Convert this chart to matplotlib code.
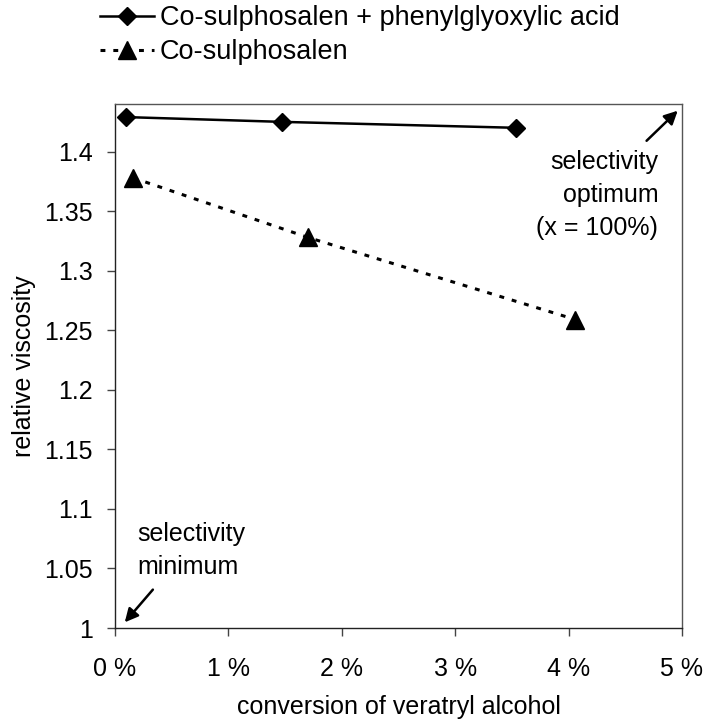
import matplotlib
matplotlib.use('Agg')
import matplotlib.pyplot as plt
from matplotlib.ticker import FuncFormatter

plt.rcParams['font.family'] = ['Liberation Sans', 'DejaVu Sans']

# data (x in %)
conv_acid = [0.10, 1.47, 3.54]
visc_acid = [1.429, 1.425, 1.420]
conv_sal = [0.16, 1.70, 4.06]
visc_sal = [1.378, 1.328, 1.259]

x_ticks = [0, 1, 2, 3, 4, 5]
y_ticks = [1, 1.05, 1.1, 1.15, 1.2, 1.25, 1.3, 1.35, 1.4]

fs = 18

fig = plt.figure(figsize=(7.08, 7.2), dpi=100)
ax = fig.add_axes([115/708, 1 - 628/720, (682-115)/708, (628-104)/720])

l1, = ax.plot(conv_acid, visc_acid, color='black', lw=1.8, marker='D', ms=9,
              label='Co-sulphosalen + phenylglyoxylic acid')
l2, = ax.plot(conv_sal, visc_sal, color='black', lw=2.2, ls=(0, (1.6, 2.6)), marker='^', ms=13,
              label='Co-sulphosalen')

ax.set_xlim(0, 5)
ax.set_ylim(1, 1.44)
ax.set_xticks(x_ticks)
ax.set_yticks(y_ticks)
ax.xaxis.set_major_formatter(FuncFormatter(lambda v, p: '%d %%' % v))
ax.yaxis.set_major_formatter(FuncFormatter(lambda v, p: ('%g' % v)))
ax.tick_params(labelsize=fs, direction='out', length=6, width=1, color='#444444')
ax.tick_params(axis='x', pad=15)
ax.tick_params(axis='y', pad=10)
for s in ax.spines.values():
    s.set_color('#555555')
    s.set_linewidth(1)
for s in ['left', 'bottom']:
    ax.spines[s].set_color('#222222')

ax.set_xlabel('conversion of veratryl alcohol', fontsize=fs, labelpad=10)
ax.set_ylabel('relative viscosity', fontsize=fs, labelpad=6)

ax.annotate('', xy=(4.98, 1.436), xytext=(4.67, 1.4075),
            arrowprops=dict(arrowstyle='-|>', color='black', lw=1.8, mutation_scale=20))
ax.text(4.79, 1.401, 'selectivity\noptimum\n(x = 100%)', ha='right', va='top',
        fontsize=fs, linespacing=1.45)

ax.annotate('', xy=(0.07, 1.003), xytext=(0.35, 1.034),
            arrowprops=dict(arrowstyle='-|>', color='black', lw=1.8, mutation_scale=20))
ax.text(0.20, 1.089, 'selectivity\nminimum', ha='left', va='top',
        fontsize=fs, linespacing=1.45)

fig.legend(handles=[l1, l2], loc='upper left', bbox_to_anchor=(100/708, 1 - 5/720),
           frameon=False, fontsize=19.5, handlelength=2.0, handletextpad=0.2,
           labelspacing=0.3, borderaxespad=0, borderpad=0)

fig.savefig('out.png', dpi=100)
